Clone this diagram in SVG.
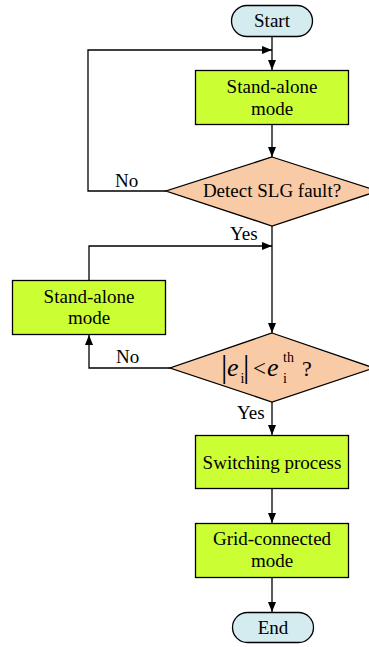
<svg xmlns="http://www.w3.org/2000/svg" width="369" height="647" viewBox="0 0 369 647">
<defs>
<style>
.box{fill:#ccff33;stroke:#000;stroke-width:1.3}
.dia{fill:#f8cba6;stroke:#000;stroke-width:1.3}
.term{fill:#d4ebf0;stroke:#000;stroke-width:1.3}
.t{font-family:"Liberation Serif","Times New Roman",serif;font-size:19px;fill:#000}
.c{text-anchor:middle}
.ln{fill:none;stroke:#000;stroke-width:1.3}
.m{font-family:"Liberation Serif","Times New Roman",serif;fill:#000}
</style>
<marker id="ah" viewBox="0 0 10 8" refX="10" refY="4" markerWidth="10" markerHeight="8" markerUnits="userSpaceOnUse" orient="auto">
<path d="M0,0 L10,4 L0,8 Z" fill="#000"/>
</marker>
</defs>
<rect width="369" height="647" fill="#fff"/>
<g id="connectors">
<line class="ln" x1="272" y1="37" x2="272" y2="70" marker-end="url(#ah)"/>
<line class="ln" x1="272" y1="125" x2="272" y2="157" marker-end="url(#ah)"/>
<polyline class="ln" points="166,191 88,191 88,50 272,50" marker-end="url(#ah)"/>
<line class="ln" x1="272" y1="226" x2="272" y2="333" marker-end="url(#ah)"/>
<polyline class="ln" points="89,280 89,246 272,246" marker-end="url(#ah)"/>
<polyline class="ln" points="170,368 89,368 89,335" marker-end="url(#ah)"/>
<line class="ln" x1="272" y1="402" x2="272" y2="435" marker-end="url(#ah)"/>
<line class="ln" x1="272" y1="489" x2="272" y2="523" marker-end="url(#ah)"/>
<line class="ln" x1="272" y1="578" x2="272" y2="612" marker-end="url(#ah)"/>
<text class="t" x="115" y="187">No</text>
<text class="t" x="230" y="240">Yes</text>
<text class="t" x="116" y="363">No</text>
<text class="t" x="237" y="419">Yes</text>
</g>
<g id="start">
<rect class="term" x="231.5" y="5.5" width="81" height="31" rx="15.5"/>
<text class="t c" x="272" y="27">Start</text>
</g>
<g id="standalone1">
<rect class="box" x="195.5" y="70.5" width="153" height="54"/>
<text class="t c" x="272" y="93">Stand-alone</text>
<text class="t c" x="272" y="115">mode</text>
</g>
<g id="detect">
<polygon class="dia" points="272,157 378,191 272,226 166,191"/>
<text class="t c" x="272" y="197">Detect SLG fault?</text>
</g>
<g id="standalone2">
<rect class="box" x="12.5" y="280.5" width="153" height="54"/>
<text class="t c" x="89" y="303">Stand-alone</text>
<text class="t c" x="89" y="324">mode</text>
</g>
<g id="threshold">
<polygon class="dia" points="272,333 374,368 272,402 170,368"/>
<text class="m"><tspan x="221" y="377" font-size="32">|</tspan><tspan x="227" y="376" font-size="26" font-style="italic">e</tspan><tspan x="240.5" y="383" font-size="14">i</tspan><tspan x="243" y="377" font-size="32">|</tspan><tspan x="253" y="376" font-size="23">&lt;</tspan><tspan x="267" y="376" font-size="26" font-style="italic">e</tspan><tspan x="283" y="362" font-size="14">th</tspan><tspan x="283" y="383" font-size="14">i</tspan><tspan x="302" y="376" font-size="22">?</tspan></text>
</g>
<g id="switching">
<rect class="box" x="195.5" y="435.5" width="153" height="53"/>
<text class="t c" x="272" y="469">Switching process</text>
</g>
<g id="grid">
<rect class="box" x="195.5" y="523.5" width="153" height="54"/>
<text class="t c" x="272" y="545">Grid-connected</text>
<text class="t c" x="272" y="567">mode</text>
</g>
<g id="end">
<rect class="term" x="232.5" y="612.5" width="81" height="30" rx="15"/>
<text class="t c" x="273" y="634">End</text>
</g>
</svg>
